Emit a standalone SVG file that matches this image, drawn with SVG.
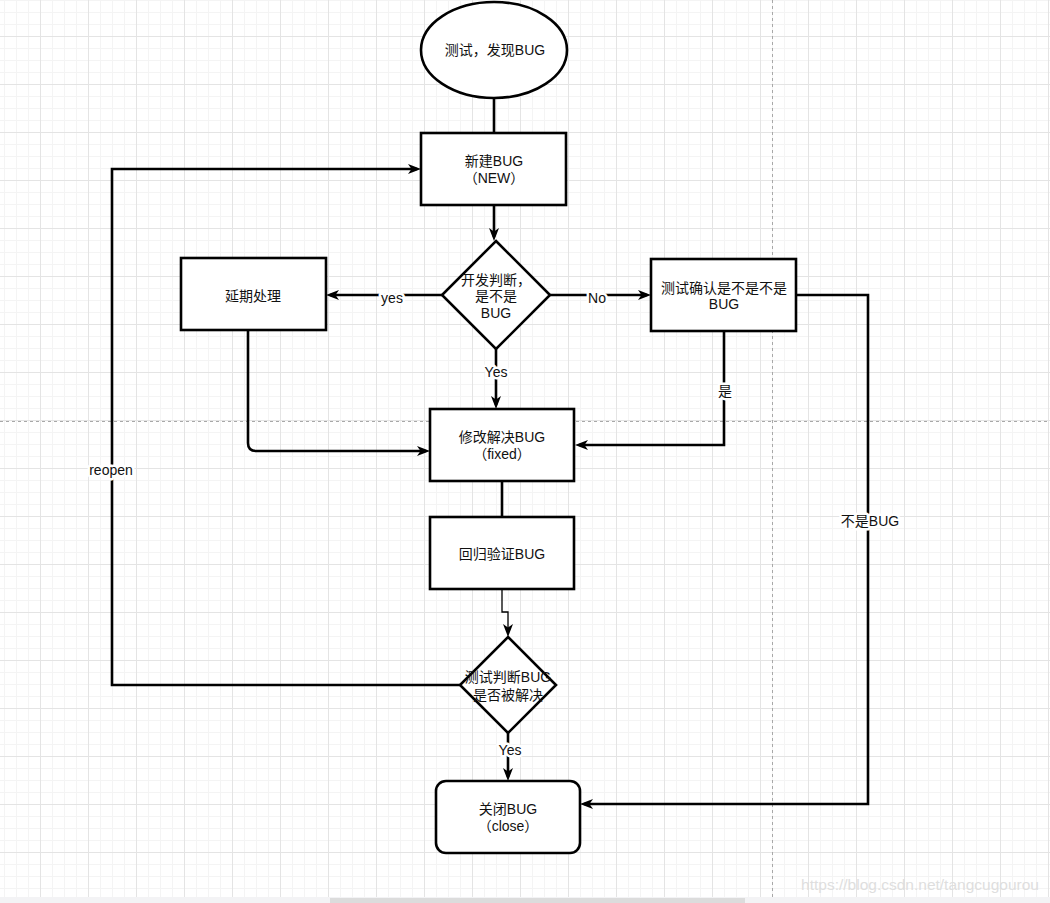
<svg xmlns="http://www.w3.org/2000/svg" width="1050" height="903" viewBox="0 0 1050 903">
<style>
.shape{fill:#ffffff;stroke:#000000;stroke-width:2.6}
.conn{fill:none;stroke:#000000;stroke-width:2.6}
.thin{fill:none;stroke:#000000;stroke-width:1.3}
text{font-family:"Liberation Sans","Noto Sans CJK SC",sans-serif;font-size:14px;fill:#111111;text-anchor:middle}
.lbl{paint-order:stroke;stroke:#ffffff;stroke-width:5px;stroke-linejoin:round}
.page{stroke:#a8a8a8;stroke-width:1;stroke-dasharray:3 3;fill:none}
</style>
<defs>
<pattern id="grid" patternUnits="userSpaceOnUse" x="40" y="36" width="48" height="48">
<path d="M12.5,0V48M24.5,0V48M36.5,0V48M0,12.5H48M0,24.5H48M0,36.5H48" stroke="#f4f4f4" stroke-width="1" fill="none"/>
<path d="M0.5,0V48M0,0.5H48" stroke="#e4e4e4" stroke-width="1" fill="none"/>
</pattern>
<marker id="arr" markerUnits="userSpaceOnUse" viewBox="0 0 13 10" refX="9" refY="5" markerWidth="13" markerHeight="10" orient="auto">
<path d="M0,0 L13,5 L0,10 L3.5,5 z" fill="#000000"/>
</marker>
</defs>
<rect width="1050" height="903" fill="#ffffff"/>
<rect width="1050" height="897" fill="url(#grid)"/>
<path class="page" d="M772.5,0V897M0,421.5H1050"/>
<rect x="0" y="897" width="1050" height="6" fill="#f3f3f5"/>
<rect x="330" y="898" width="415" height="5" fill="#dcdcdc"/>
<text x="920" y="890" style="fill:#dedede;font-size:15.5px">https://blog.csdn.net/tangcugourou</text>

<g id="connectors">
<path class="conn" d="M494,98V133"/>
<path class="conn" d="M494,205V237" marker-end="url(#arr)"/>
<path class="conn" d="M442,295H330" marker-end="url(#arr)"/>
<path class="conn" d="M550,295H647" marker-end="url(#arr)"/>
<path class="conn" d="M496,349V405" marker-end="url(#arr)"/>
<path class="conn" d="M248,331V443Q248,451 256,451H426" marker-end="url(#arr)"/>
<path class="conn" d="M724,331V445H579" marker-end="url(#arr)"/>
<path class="conn" d="M796,295H868V804H584" marker-end="url(#arr)"/>
<path class="conn" d="M502,481V517"/>
<path class="thin" d="M502,589V612H508V633" marker-end="url(#arr)"/>
<path class="conn" d="M460,685H112V169H417" marker-end="url(#arr)"/>
<path class="conn" d="M508,733V777" marker-end="url(#arr)"/>
<text class="lbl" x="392" y="303">yes</text>
<text class="lbl" x="597" y="303">No</text>
<text class="lbl" x="496" y="377">Yes</text>
<text class="lbl" x="725" y="396">是</text>
<text class="lbl" x="870" y="526">不是BUG</text>
<text class="lbl" x="111" y="475">reopen</text>
<text class="lbl" x="510" y="755">Yes</text>
</g>

<g id="start">
<ellipse class="shape" cx="494" cy="50" rx="73" ry="48"/>
<text x="495" y="55">测试，发现BUG</text>
</g>
<g id="new">
<rect class="shape" x="421" y="133" width="145" height="72"/>
<text x="494" y="166">新建BUG</text>
<text x="494" y="183">（NEW）</text>
</g>
<g id="judge1">
<polygon class="shape" points="496,241 550,295 496,349 442,295"/>
<text x="496" y="285">开发判断，</text>
<text x="496" y="301">是不是</text>
<text x="496" y="318">BUG</text>
</g>
<g id="delay">
<rect class="shape" x="181" y="258" width="145" height="72"/>
<text x="253" y="301">延期处理</text>
</g>
<g id="confirm">
<rect class="shape" x="651" y="259" width="145" height="72"/>
<text x="724" y="293">测试确认是不是不是</text>
<text x="724" y="309">BUG</text>
</g>
<g id="fixed">
<rect class="shape" x="430" y="409" width="144" height="72"/>
<text x="502" y="442">修改解决BUG</text>
<text x="502" y="459">（fixed）</text>
</g>
<g id="regress">
<rect class="shape" x="430" y="517" width="144" height="72"/>
<text x="502" y="559">回归验证BUG</text>
</g>
<g id="judge2">
<polygon class="shape" points="508,637 556,685 508,733 460,685"/>
<text x="508" y="682">测试判断BUG</text>
<text x="508" y="700">是否被解决</text>
</g>
<g id="close">
<rect class="shape" x="436" y="781" width="144" height="72" rx="10" ry="10"/>
<text x="508" y="814">关闭BUG</text>
<text x="508" y="831">（close）</text>
</g>
</svg>
